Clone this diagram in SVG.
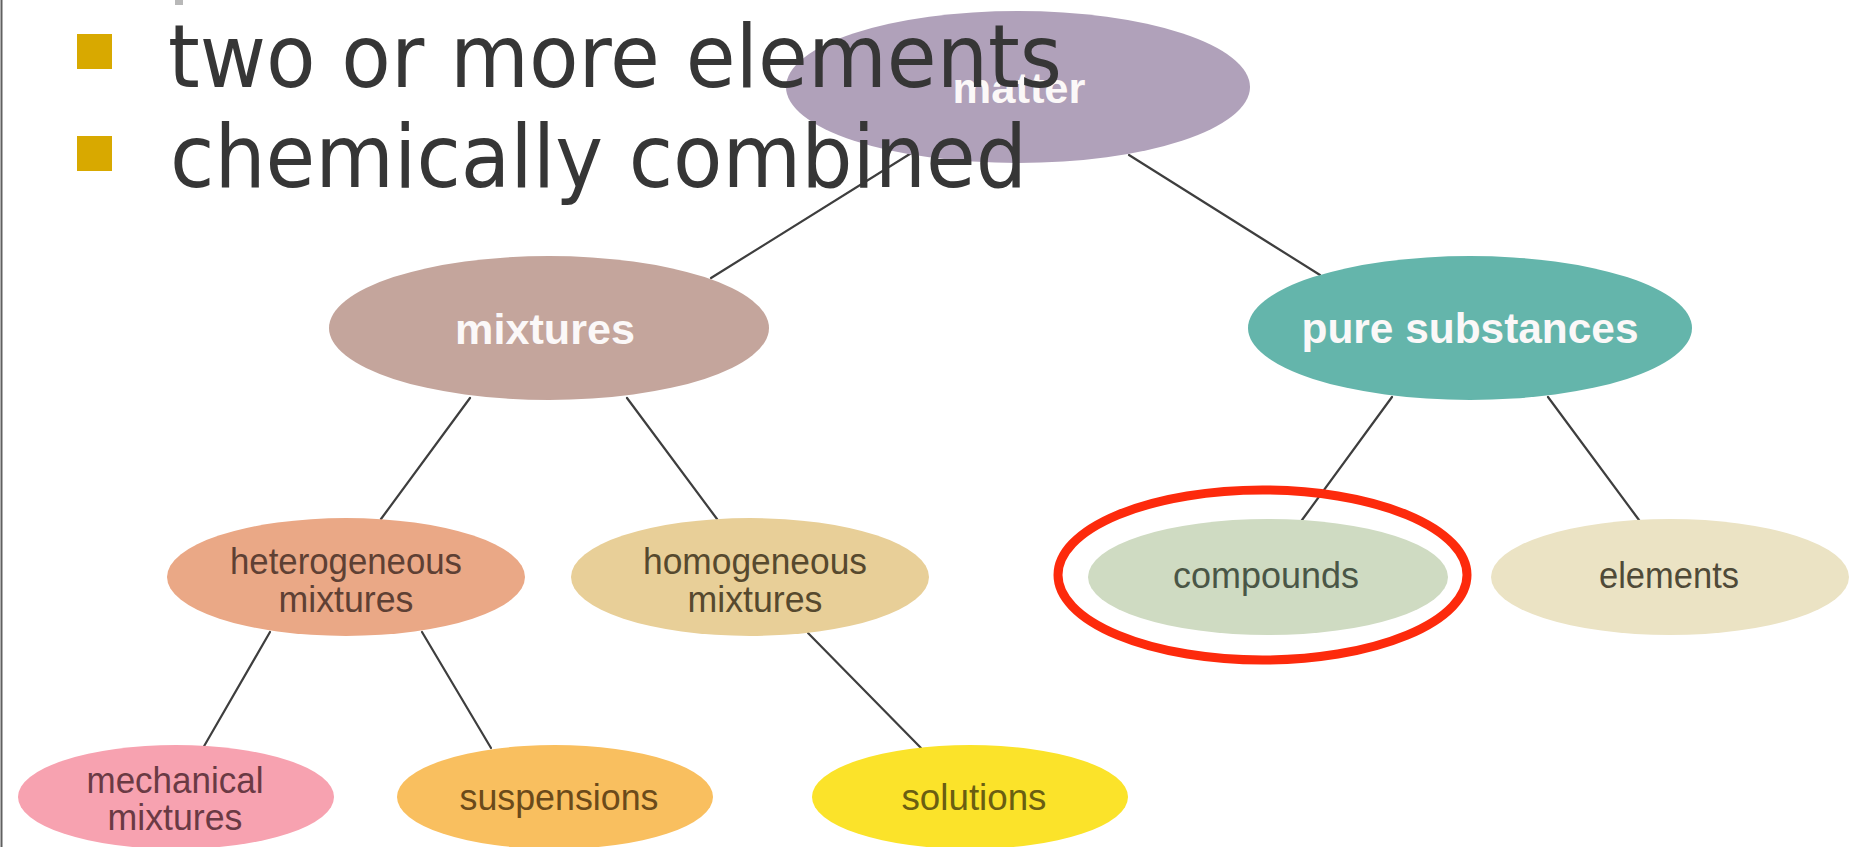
<svg xmlns="http://www.w3.org/2000/svg" width="1861" height="847" viewBox="0 0 1861 847">
<style>
.lnk{stroke:#3e3e3e;stroke-width:2.2;fill:none;stroke-linecap:round}
.top{font-family:"Liberation Sans",Arial,sans-serif;font-weight:bold;font-size:43px;fill:#fbf8f8;text-anchor:middle}
.lab{font-family:"Liberation Sans",Arial,sans-serif;font-size:36px;text-anchor:middle}
.title{font-family:"DejaVu Sans","Liberation Sans",sans-serif;font-size:88px;fill:#363636}
.bul{fill:#d8a900}
</style>
<rect width="1861" height="847" fill="#ffffff"/>
<line x1="1.5" y1="0" x2="1.5" y2="847" stroke="#606060" stroke-width="2"/>
<rect x="175" y="0" width="8" height="5" fill="#b8b8b8"/>
<g id="connectors">
<line class="lnk" x1="913" y1="152" x2="711" y2="278"/>
<line class="lnk" x1="1129" y1="155" x2="1320" y2="275"/>
<line class="lnk" x1="470" y1="398" x2="381" y2="519"/>
<line class="lnk" x1="627" y1="398" x2="717" y2="519"/>
<line class="lnk" x1="1392" y1="397" x2="1302" y2="520"/>
<line class="lnk" x1="1548" y1="397" x2="1639" y2="520"/>
<line class="lnk" x1="270" y1="632" x2="203" y2="748"/>
<line class="lnk" x1="422" y1="632" x2="491" y2="748"/>
<line class="lnk" x1="808" y1="633" x2="921" y2="748"/>
</g>
<g id="matter">
<ellipse cx="1018" cy="87" rx="232" ry="76" fill="#b0a1ba"/>
<text class="top" x="1019" y="103" textLength="133" lengthAdjust="spacingAndGlyphs">matter</text>
</g>
<g id="mixtures">
<ellipse cx="549" cy="328" rx="220" ry="72" fill="#c4a59c"/>
<text class="top" x="545" y="344" textLength="180" lengthAdjust="spacingAndGlyphs">mixtures</text>
</g>
<g id="pure-substances">
<ellipse cx="1470" cy="328" rx="222" ry="72" fill="#64b5ab"/>
<text class="top" x="1470" y="343" textLength="337" lengthAdjust="spacingAndGlyphs">pure substances</text>
</g>
<g id="heterogeneous">
<ellipse cx="346" cy="577" rx="179" ry="59" fill="#eaa886"/>
<text class="lab" x="346" y="574" fill="#5e4034" textLength="232" lengthAdjust="spacingAndGlyphs">heterogeneous</text>
<text class="lab" x="346" y="612" fill="#5e4034" textLength="135" lengthAdjust="spacingAndGlyphs">mixtures</text>
</g>
<g id="homogeneous">
<ellipse cx="750" cy="577" rx="179" ry="59" fill="#e8cf98"/>
<text class="lab" x="755" y="574" fill="#56492e" textLength="224" lengthAdjust="spacingAndGlyphs">homogeneous</text>
<text class="lab" x="755" y="612" fill="#56492e" textLength="135" lengthAdjust="spacingAndGlyphs">mixtures</text>
</g>
<g id="compounds">
<ellipse cx="1268" cy="577" rx="180" ry="58" fill="#cfdbc2"/>
<text class="lab" x="1266" y="588" fill="#4a5646" textLength="186" lengthAdjust="spacingAndGlyphs">compounds</text>
<ellipse cx="1262.5" cy="575" rx="204.5" ry="85" fill="none" stroke="#fd2a0c" stroke-width="9"/>
</g>
<g id="elements">
<ellipse cx="1670" cy="577" rx="179" ry="58" fill="#ebe3c4"/>
<text class="lab" x="1669" y="588" fill="#4f4a38" textLength="140" lengthAdjust="spacingAndGlyphs">elements</text>
</g>
<g id="mechanical-mixtures">
<ellipse cx="176" cy="797" rx="158" ry="52" fill="#f7a2b0"/>
<text class="lab" x="175" y="793" fill="#6a3a44" textLength="177" lengthAdjust="spacingAndGlyphs">mechanical</text>
<text class="lab" x="175" y="830" fill="#6a3a44" textLength="135" lengthAdjust="spacingAndGlyphs">mixtures</text>
</g>
<g id="suspensions">
<ellipse cx="555" cy="797" rx="158" ry="52" fill="#f9bf5f"/>
<text class="lab" x="559" y="810" fill="#6b4a1a" textLength="199" lengthAdjust="spacingAndGlyphs">suspensions</text>
</g>
<g id="solutions">
<ellipse cx="970" cy="797" rx="158" ry="52" fill="#fbe32a"/>
<text class="lab" x="974" y="810" fill="#6a5e12" textLength="145" lengthAdjust="spacingAndGlyphs">solutions</text>
</g>
<g id="bullets">
<rect class="bul" x="77" y="34" width="35" height="35"/>
<text class="title" x="168" y="87" textLength="894" lengthAdjust="spacingAndGlyphs">two or more elements</text>
<rect class="bul" x="77" y="136" width="35" height="35"/>
<text class="title" x="170" y="187" textLength="857" lengthAdjust="spacingAndGlyphs">chemically combined</text>
</g>
</svg>
